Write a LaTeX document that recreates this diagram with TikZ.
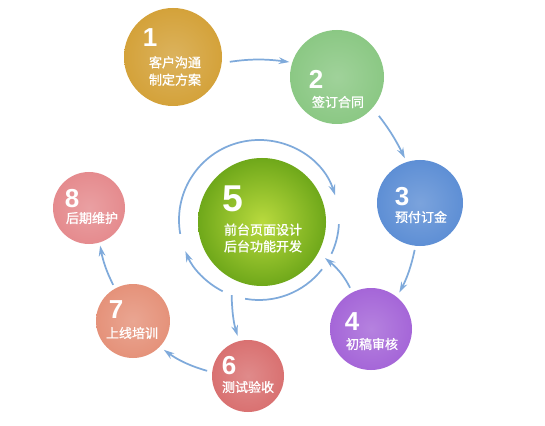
\documentclass[tikz,border=0pt]{standalone}
\usepackage{fontspec}
\newfontfamily\cjk{Noto Sans CJK SC}[FakeBold=1.2]
\newfontfamily\numf{Liberation Sans}
\usetikzlibrary{arrows.meta}
\definecolor{arrowc}{HTML}{7FAADB}
\definecolor{col1}{HTML}{D4A23A}
\definecolor{col2}{HTML}{8BC884}
\definecolor{col3}{HTML}{5E8FD5}
\definecolor{col4}{HTML}{A566D8}
\definecolor{col5a}{HTML}{B9DA3E}
\definecolor{col5b}{HTML}{6FA81A}
\definecolor{col6}{HTML}{D97171}
\definecolor{col7}{HTML}{E5927A}
\definecolor{col8}{HTML}{E58B8E}
\begin{document}
\begin{tikzpicture}[x=0.75pt,y=0.75pt,
  ball/.style={circle, inner sep=0pt, minimum size=#1*1.5pt},
  shadeball/.style={inner color=#1!82!white, outer color=#1},
  num/.style={font=\numf\bfseries\fontsize{19.5}{19.5}\selectfont, text=white, inner sep=0pt},
  bignum/.style={font=\numf\bfseries\fontsize{28}{28}\selectfont, text=white, inner sep=0pt},
  lbl/.style={font=\cjk\fontsize{9.75}{13}\selectfont, text=white, align=center, inner sep=0pt},
  tip/.style={-{Stealth[length=8pt,width=5pt]}},
  flow/.style={draw=arrowc, line width=1.3pt, tip},
  ringline/.style={draw=arrowc, line width=1.3pt}]
\useasboundingbox (0,0) rectangle (545,425);
\fill[white] (0,0) rectangle (545,425);

% circles
\node[ball=49, shadeball=col1] (c1) at (173,368) {};
\node[ball=47, shadeball=col2] (c2) at (337,348) {};
\node[ball=43, shadeball=col3] (c3) at (420,222) {};
\node[ball=41, shadeball=col4] (c4) at (371,96) {};
\node[ball=64, inner color=col5a, outer color=col5b] (c5) at (262,203) {};
\node[ball=36, shadeball=col6] (c6) at (248,49) {};
\node[ball=37, shadeball=col7] (c7) at (133,104) {};
\node[ball=36, shadeball=col8] (c8) at (89,217) {};

% texts
\node[num] (n1) at (150,387) {1};
\node[lbl] (t1) at (175,354) {客户沟通\\制定方案};
\node[num] (n2) at (316,346) {2};
\node[lbl] (t2) at (338,323) {签订合同};
\node[num] (n3) at (402,228) {3};
\node[lbl] (t3) at (421,208) {预付订金};
\node[num] (n4) at (352,103) {4};
\node[lbl] (t4) at (372,81) {初稿审核};
\node[bignum] (n5) at (233,226) {5};
\node[lbl, font=\cjk\fontsize{9.75}{12.5}\selectfont] (t5) at (263,187) {前台页面设计\\后台功能开发};
\node[num] (n6) at (229,59) {6};
\node[lbl] (t6) at (248,38) {测试验收};
\node[num] (n7) at (116,115) {7};
\node[lbl] (t7) at (132,92) {上线培训};
\node[num] (n8) at (72,226) {8};
\node[lbl] (t8) at (92,207) {后期维护};

% ring around 5
\coordinate (rc) at (259,205);
\draw[ringline, tip] (rc) ++(190:80) arc[start angle=190, end angle=18, radius=80];
\draw[ringline] (rc) ++(-3:80) arc[start angle=-3, end angle=-25, radius=80];
\draw[ringline] (rc) ++(-38:80) arc[start angle=-38, end angle=-100, radius=80];
\draw[ringline, tip] (rc) ++(243:80) arc[start angle=243, end angle=203, radius=80];
\path (rc) ++(250:80) coordinate (out6);
\coordinate (in4) at (325,167);

% connectors
\draw[flow, shorten <=6pt, shorten >=2pt] (c1.-7) to[bend left=8] (c2.162);
\draw[flow, shorten <=7.5pt, shorten >=3pt] (c2.-41) to[bend left=6] (c3.108);
\draw[flow, shorten <=3pt, shorten >=3.75pt] (c3.-96) to[bend left=8] (c4.51);
\draw[flow, shorten <=3.75pt] (c4.117) to[bend right=12] (in4);
\draw[flow, shorten >=3.75pt] (out6) to[bend right=8] (c6.104);
\draw[flow, shorten <=3.75pt, shorten >=3.75pt] (c6.174) to[bend left=10] (c7.-44);
\draw[flow, shorten <=3pt, shorten >=2.25pt] (c7.119) to[bend left=8] (c8.-73);
\end{tikzpicture}
\end{document}
